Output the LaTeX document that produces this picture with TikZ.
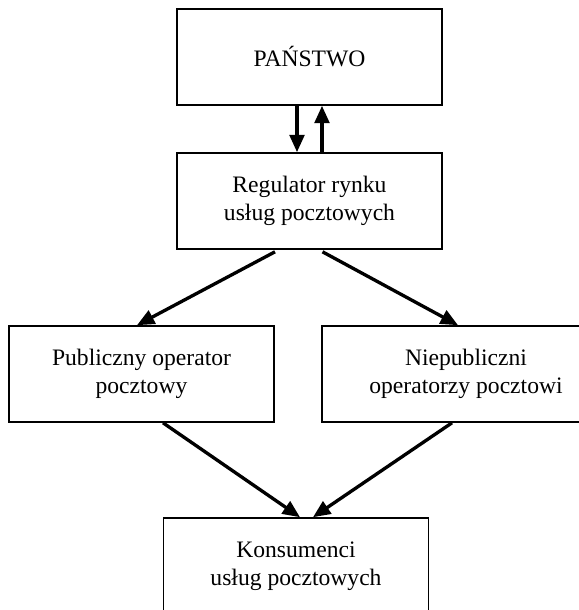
\documentclass[tikz,border=0pt]{standalone}
\usepackage{fontspec}
\setmainfont{Liberation Serif}
\usepackage{tikz}
\usetikzlibrary{arrows.meta}
\usetikzlibrary{calc}
\pgfdeclarelayer{edgelayer}
\pgfdeclarelayer{nodelayer}
\pgfsetlayers{edgelayer,nodelayer,main}
\tikzstyle{box}=[rectangle,fill=white,draw=black,line width=1.2pt,align=center,inner sep=0pt,minimum width=198.75pt,minimum height=72pt,font=\fontsize{17.7}{21}\selectfont]
\tikzstyle{flow}=[-{Triangle[width=11pt,length=13pt]},line width=2.5pt]

\begin{document}
\begin{tikzpicture}[x=0.75pt,y=-0.75pt]
        \useasboundingbox (0,0) rectangle (578,610);
        \begin{pgfonlayer}{nodelayer}
            \node [style = box] (panstwo) at (309.5, 57) {PAŃSTWO};
            \node [style = box] (regulator) at (309.5, 201) {Regulator rynku\\usług pocztowych};
            \node [style = box] (publiczny) at (141.5, 374) {Publiczny operator\\pocztowy};
            \node [style = box, minimum width=216pt] (niepubliczni) at (466, 374) {Niepubliczni\\operatorzy pocztowi};
            \node [style = box] (konsumenci) at (296, 566) {Konsumenci\\usług pocztowych};
        \end{pgfonlayer}

        \begin{pgfonlayer}{edgelayer}
            \draw [style = flow] ($(panstwo.south)+(-12.5,0)$) to ($(regulator.north)+(-12.5,0)$);
            \draw [style = flow] ($(regulator.north)+(12.5,0)$) to ($(panstwo.south)+(12.5,0)$);
            \draw [style = flow] ($(regulator.south)+(-34.5,2)$) to ($(publiczny.north)+(-4.5,0)$);
            \draw [style = flow] ($(regulator.south)+(13,2)$) to ($(niepubliczni.north)+(-8,0)$);
            \draw [style = flow] ($(publiczny.south)+(21.5,0)$) to ($(konsumenci.north)+(4,0)$);
            \draw [style = flow] ($(niepubliczni.south)+(-14,0)$) to ($(konsumenci.north)+(17,0)$);
        \end{pgfonlayer}
    \end{tikzpicture}
\end{document}
